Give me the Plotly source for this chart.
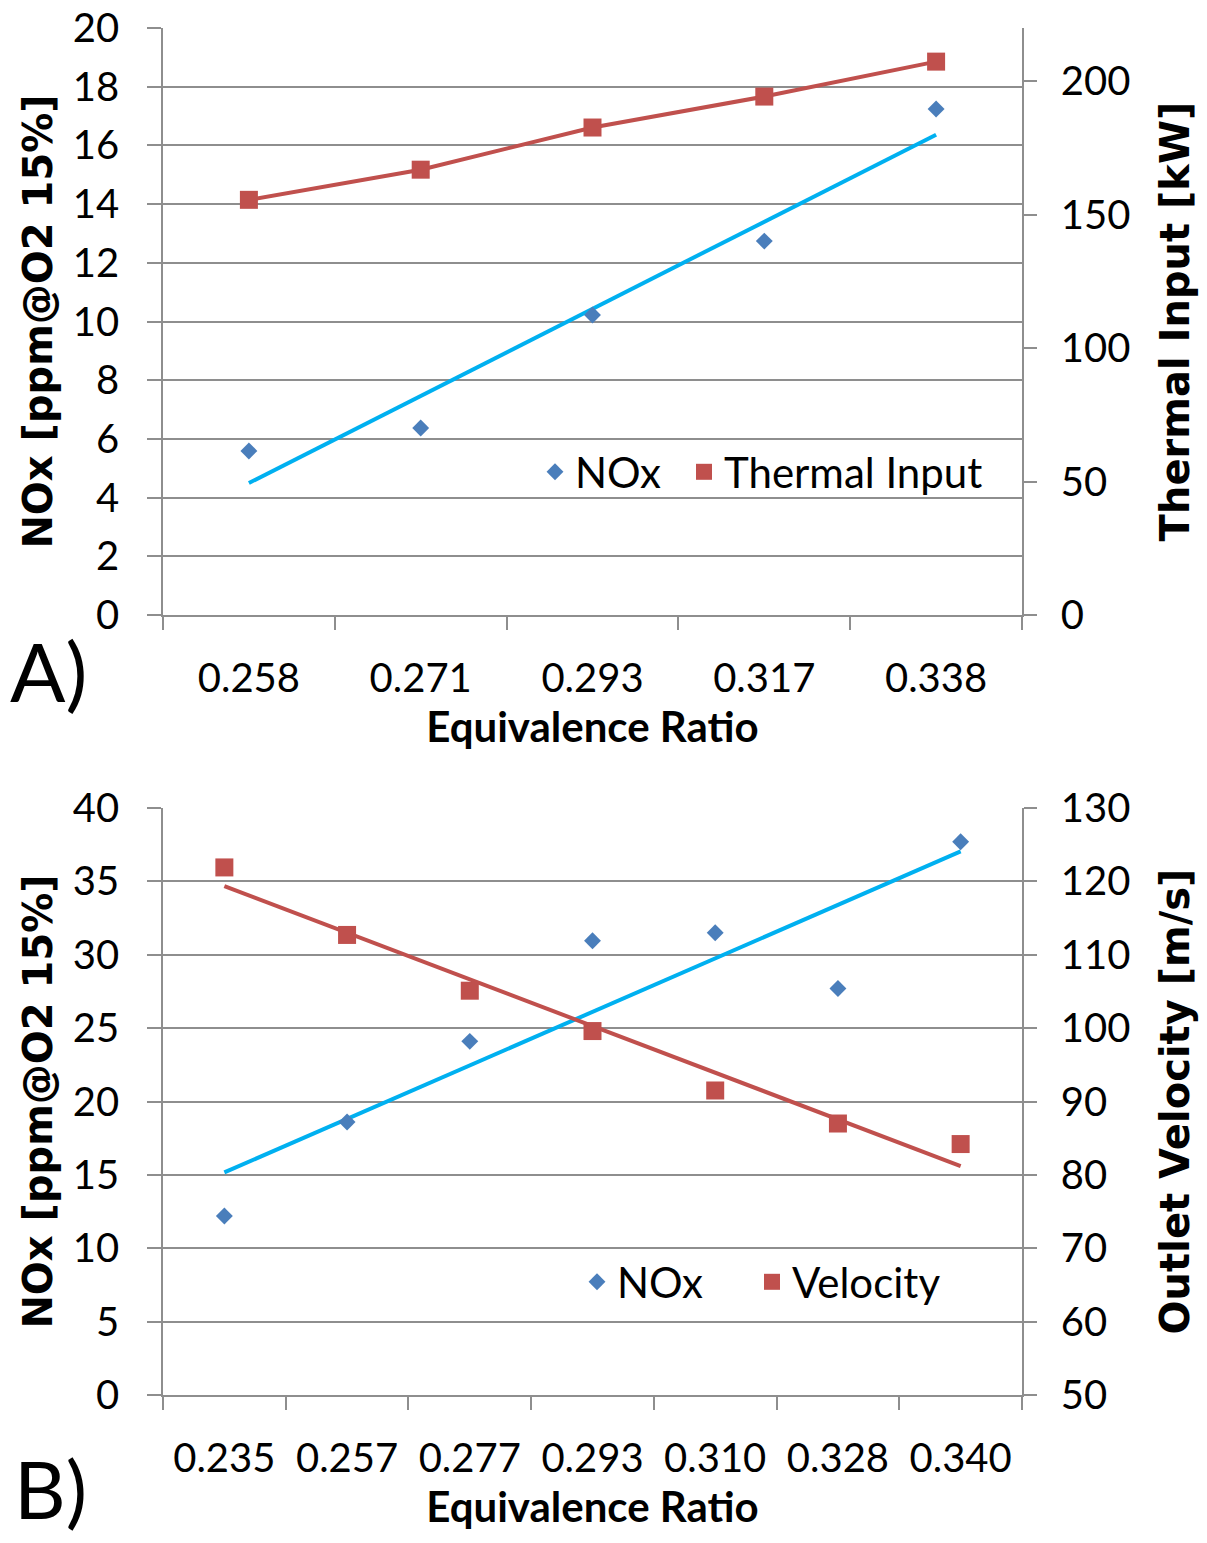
import numpy as np
import plotly.graph_objects as go

# ---------------- data ----------------
phi_a = ["0.258", "0.271", "0.293", "0.317", "0.338"]
nox_a = [5.59, 6.37, 10.22, 12.74, 17.24]
thermal_a = [155.6, 166.9, 182.7, 194.3, 207.4]

phi_b = ["0.235", "0.257", "0.277", "0.293", "0.310", "0.328", "0.340"]
nox_b = [12.2, 18.6, 24.1, 30.95, 31.5, 27.7, 37.7]
vel_b = [121.9, 112.7, 105.1, 99.6, 91.5, 87.0, 84.2]

# ---------------- styles ----------------
W, H = 1207, 1543
BLUE = "#4A7EBB"
RED = "#C0504D"
CYAN = "#00B0F0"
GRID = "#8E8E8E"
TICKFONT = dict(family="Lato", size=40, color="black")
LEGFONT = dict(family="Lato", size=42, color="black")
YTITLEFONT = dict(family="DejaVu Sans", size=40, color="black", weight="bold")
XTITLEFONT = dict(family="Lato", size=42, color="black", weight="bold")


def trend(vals):
    idx = np.arange(1, len(vals) + 1)
    k, b = np.polyfit(idx, vals, 1)
    return list(k * idx + b)


fig = go.Figure()

# ---- panel A ----
fig.add_trace(go.Scatter(x=phi_a, y=trend(nox_a), mode="lines",
                         line=dict(color=CYAN, width=4), showlegend=False,
                         xaxis="x", yaxis="y"))
fig.add_trace(go.Scatter(x=phi_a, y=thermal_a, mode="lines",
                         line=dict(color=RED, width=4), showlegend=False,
                         xaxis="x", yaxis="y2"))
fig.add_trace(go.Scatter(x=phi_a, y=nox_a, mode="markers", name="NOx",
                         marker=dict(symbol="diamond", size=13, color=BLUE),
                         xaxis="x", yaxis="y", legend="legend"))
fig.add_trace(go.Scatter(x=phi_a, y=thermal_a, mode="markers", name="Thermal Input",
                         marker=dict(symbol="square", size=18, color=RED),
                         xaxis="x", yaxis="y2", legend="legend2"))

# ---- panel B ----
fig.add_trace(go.Scatter(x=phi_b, y=trend(nox_b), mode="lines",
                         line=dict(color=CYAN, width=4), showlegend=False,
                         xaxis="x2", yaxis="y3"))
fig.add_trace(go.Scatter(x=phi_b, y=trend(vel_b), mode="lines",
                         line=dict(color=RED, width=4), showlegend=False,
                         xaxis="x2", yaxis="y4"))
fig.add_trace(go.Scatter(x=phi_b, y=nox_b, mode="markers", name="NOx",
                         marker=dict(symbol="diamond", size=13, color=BLUE),
                         xaxis="x2", yaxis="y3", legend="legend3"))
fig.add_trace(go.Scatter(x=phi_b, y=vel_b, mode="markers", name="Velocity",
                         marker=dict(symbol="square", size=18, color=RED),
                         xaxis="x2", yaxis="y4", legend="legend4"))

xdom = [163 / W, 1022 / W]
dom_a = [1 - 615 / H, 1 - 28 / H]
dom_b = [1 - 1395 / H, 1 - 808 / H]

xcommon = dict(type="category", tickson="boundaries", ticks="outside", ticklen=13,
               tickcolor=GRID, tickwidth=1.5, showline=True, linecolor=GRID,
               linewidth=1.5, showgrid=False, tickfont=TICKFONT,
               ticklabelstandoff=27, domain=xdom, zeroline=False,
               automargin=False, fixedrange=True)
yleft = dict(ticks="outside", ticklen=14, tickcolor=GRID, tickwidth=1.5,
             showline=True, linecolor=GRID, linewidth=1.5, showgrid=True,
             gridcolor=GRID, gridwidth=1.5, zeroline=False, tickfont=TICKFONT,
             ticklabelstandoff=20, automargin=False)
yright = dict(ticks="outside", ticklen=13, tickcolor=GRID, tickwidth=1.5,
              showline=True, linecolor=GRID, linewidth=1.5, showgrid=False,
              zeroline=False, tickfont=TICKFONT, ticklabelstandoff=16,
              side="right", automargin=False)


def leg(xpix, ypix):
    return dict(orientation="h", x=xpix / W, xanchor="left", y=1 - ypix / H,
                yanchor="middle", bgcolor="rgba(0,0,0,0)", font=LEGFONT)


fig.update_layout(
    width=W, height=H, margin=dict(l=0, r=0, t=0, b=0),
    paper_bgcolor="white", plot_bgcolor="white",
    xaxis=dict(xcommon, anchor="y", range=[-0.5, len(phi_a) - 0.5],
               title=dict(text="Equivalence Ratio", font=XTITLEFONT, standoff=0)),
    yaxis=dict(yleft, domain=dom_a, anchor="x", range=[0, 20], dtick=2,
               title=dict(text="NOx [ppm@O2 15%]", font=YTITLEFONT, standoff=8)),
    yaxis2=dict(yright, overlaying="y", anchor="x", range=[0, 220],
                tickvals=[0, 50, 100, 150, 200],
                title=dict(text="Thermal Input [kW]", font=YTITLEFONT, standoff=32)),
    xaxis2=dict(xcommon, anchor="y3", range=[-0.5, len(phi_b) - 0.5],
                title=dict(text="Equivalence Ratio", font=XTITLEFONT, standoff=0)),
    yaxis3=dict(yleft, domain=dom_b, anchor="x2", range=[0, 40], dtick=5,
                title=dict(text="NOx [ppm@O2 15%]", font=YTITLEFONT, standoff=8)),
    yaxis4=dict(yright, overlaying="y3", anchor="x2", range=[50, 130], dtick=10,
                title=dict(text="Outlet Velocity [m/s]", font=YTITLEFONT, standoff=32)),
    legend=leg(535, 472),
    legend2=leg(684, 472),
    legend3=leg(577, 1282),
    legend4=leg(752, 1282),
    annotations=[
        dict(text="A)", x=8 / W, y=1 - 670 / H, xref="paper", yref="paper",
             xanchor="left", yanchor="middle", showarrow=False,
             font=dict(family="Lato", size=82, color="black")),
        dict(text="B)", x=12 / W, y=1 - 1488 / H, xref="paper", yref="paper",
             xanchor="left", yanchor="middle", showarrow=False,
             font=dict(family="Lato", size=80, color="black")),
    ],
)

fig.write_html("out.html", config={"displayModeBar": False},
               post_script="document.body.style.margin='0';")
